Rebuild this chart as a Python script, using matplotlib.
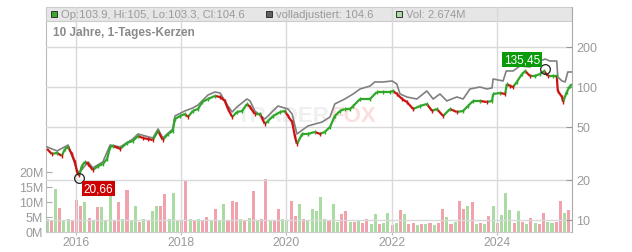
import numpy as np
import matplotlib
matplotlib.use("Agg")
import matplotlib.pyplot as plt
from matplotlib.collections import LineCollection
from matplotlib.patches import Rectangle

plt.rcParams["font.family"] = ["Liberation Sans", "DejaVu Sans"]

# daily candles, sampled (decimal year, close)
price_years = [2015.45, 2015.54, 2015.64, 2015.73, 2015.79, 2015.85, 2015.92, 2015.98, 2016.02, 2016.06,
               2016.11, 2016.17, 2016.23, 2016.32, 2016.42, 2016.51, 2016.59, 2016.65, 2016.70, 2016.84,
               2016.97, 2017.08, 2017.18, 2017.27, 2017.37, 2017.46, 2017.56, 2017.65, 2017.75, 2017.84,
               2017.88, 2017.98, 2018.07, 2018.13, 2018.22, 2018.32, 2018.40, 2018.51, 2018.64, 2018.74,
               2018.83, 2018.89, 2018.97, 2019.06, 2019.16, 2019.25, 2019.31, 2019.40, 2019.50, 2019.59,
               2019.65, 2019.75, 2019.88, 2019.97, 2020.03, 2020.11, 2020.16, 2020.20, 2020.30, 2020.41,
               2020.54, 2020.64, 2020.73, 2020.83, 2020.92, 2021.02, 2021.11, 2021.21, 2021.27, 2021.40,
               2021.59, 2021.72, 2021.84, 2021.97, 2022.03, 2022.10, 2022.20, 2022.29, 2022.41, 2022.54,
               2022.67, 2022.77, 2022.86, 2022.98, 2023.11, 2023.24, 2023.36, 2023.45, 2023.55, 2023.68,
               2023.81, 2023.91, 2023.93, 2024.06, 2024.16, 2024.19, 2024.25, 2024.31, 2024.38, 2024.48,
               2024.54, 2024.63, 2024.73, 2024.82, 2024.90, 2024.97, 2025.07, 2025.14, 2025.16, 2025.24,
               2025.26, 2025.33, 2025.39, 2025.43]
price_close = [34.2, 31.3, 31.9, 30.3, 34.2, 35.4, 31.3, 27.3, 22.9, 21.5,
               25.4, 27.3, 26.3, 23.7, 25.4, 26.3, 28.7, 35.4, 36.0, 34.2,
               37.9, 39.2, 42.8, 41.3, 40.6, 39.9, 46.7, 39.9, 44.3, 46.7,
               57.4, 60.5, 62.6, 59.5, 66.0, 68.3, 77.1, 81.2, 85.6, 84.1,
               78.5, 68.3, 59.5, 64.8, 66.0, 74.5, 70.7, 62.6, 62.6, 52.7,
               55.5, 60.5, 64.8, 66.0, 60.5, 54.5, 42.8, 37.2, 44.3, 44.3,
               45.9, 44.3, 45.9, 50.0, 60.5, 66.0, 68.3, 68.3, 71.9, 81.2,
               81.2, 91.7, 91.7, 91.7, 93.3, 88.6, 81.2, 77.1, 68.3, 71.9,
               74.5, 66.0, 68.3, 60.5, 68.3, 64.8, 66.0, 71.9, 78.5, 78.5,
               77.1, 78.5, 88.6, 90.1, 88.6, 105.3, 101.7, 100.0, 109.1, 125.3,
               132.0, 121.0, 121.0, 125.3, 132.0, 121.0, 121.0, 121.0, 93.3, 84.1,
               77.1, 91.7, 101.7, 104.6]

# volladjustiert (grey line)
adj_years = [2015.45, 2015.64, 2015.85, 2016.02, 2016.06, 2016.23, 2016.32, 2016.51, 2016.65, 2016.84,
             2017.08, 2017.18, 2017.46, 2017.56, 2017.65, 2017.84, 2017.88, 2018.07, 2018.22, 2018.32,
             2018.51, 2018.64, 2018.74, 2018.89, 2018.97, 2019.06, 2019.25, 2019.31, 2019.40, 2019.59,
             2019.65, 2019.84, 2020.03, 2020.11, 2020.20, 2020.41, 2020.68, 2020.83, 2020.92, 2021.11,
             2021.27, 2021.40, 2021.59, 2021.68, 2021.84, 2022.01, 2022.10, 2022.16, 2022.29, 2022.48,
             2022.67, 2022.79, 2022.92, 2023.05, 2023.24, 2023.36, 2023.49, 2023.68, 2023.81, 2023.91,
             2023.93, 2024.12, 2024.18, 2024.31, 2024.44, 2024.63, 2024.82, 2024.92, 2025.01, 2025.14,
             2025.16, 2025.24, 2025.30, 2025.35, 2025.43]
adj_close = [35.4, 33.0, 36.6, 23.7, 22.5, 27.3, 24.6, 27.3, 36.6, 35.4,
             40.6, 44.3, 41.3, 48.3, 41.3, 48.3, 60.5, 66.0, 69.5, 73.2,
             87.1, 91.7, 90.1, 71.9, 64.8, 70.7, 81.2, 78.5, 66.0, 57.4,
             60.5, 71.9, 68.3, 62.6, 44.3, 50.9, 54.5, 59.5, 74.5, 81.2,
             88.6, 96.6, 101.7, 109.1, 109.1, 111.0, 105.3, 88.6, 84.1, 81.2,
             93.3, 81.2, 88.6, 78.5, 84.1, 81.2, 96.6, 100.0, 96.6, 98.3,
             114.9, 111.0, 132.0, 132.0, 143.9, 141.4, 156.9, 162.4, 156.9, 156.9,
             118.9, 111.0, 109.1, 129.7, 129.7]

# volume in millions, one bar every 0.08 years from mid 2015
vol_m = [4.5, 3.8, 14.3, 8.0, 3.6, 4.2, 3.9, 10.7, 8.7, 10.0,
         4.8, 3.7, 8.3, 8.3, 4.1, 12.7, 3.6, 10.0, 4.4, 14.0,
         3.9, 8.7, 3.5, 4.2, 3.8, 7.0, 8.7, 8.7, 12.7, 4.3,
         13.0, 4.0, 3.7, 17.0, 4.5, 3.8, 4.2, 3.6, 5.0, 3.9,
         7.7, 4.0, 9.3, 3.8, 10.3, 10.0, 4.4, 3.7, 4.6, 13.7,
         3.9, 4.2, 17.7, 4.0, 3.6, 7.7, 4.3, 3.8, 10.3, 5.2,
         9.3, 4.5, 4.0, 7.7, 7.0, 11.7, 4.3, 3.6, 9.3, 3.5,
         6.0, 7.0, 3.4, 3.2, 3.6, 3.0, 4.5, 2.8, 6.0, 2.6,
         2.9, 6.3, 2.5, 3.0, 7.3, 6.0, 2.7, 3.1, 2.4, 2.8,
         2.6, 3.0, 2.5, 2.9, 7.7, 5.0, 2.7, 3.2, 10.3, 7.7,
         8.7, 10.0, 2.8, 3.1, 2.6, 5.5, 8.7, 3.0, 5.7, 13.0,
         7.3, 2.9, 7.0, 3.2, 2.7, 4.7, 3.0, 2.8, 6.3, 3.4,
         2.9, 3.3, 10.3, 6.3, 7.3]
vol_dir = ("grgrggrrrg" "rgrgggrrgr" "ggrgrggrrg" "ggrrgrgrrg" "rggrrrgrgr"
           "grrgrrggrr" "grgggggrgg" "rrgrgrrggr" "ggrgrgrrgr"
           "grgrrgrgrr" "grgrgrgrgg" "grgrgrgrrg" "grrgr")

year_ticks = [2016, 2018, 2020, 2022, 2024]
price_ticks = [10, 20, 50, 100, 200]
vol_ticks = [0, 5, 10, 15, 20]

low_val, low_year = 20.66, 2016.06
high_val, high_year = 135.45, 2024.92

grey = "#9a9a9a"
up_c, dn_c = "#2fa82a", "#cc1111"

fig = plt.figure(figsize=(6.32, 2.53), dpi=100)
ax = fig.add_axes([46 / 632, 20 / 253, 526 / 632, 225 / 253])

vol_years = 2015.45 + 0.08 * np.arange(len(vol_m))
vcol = ["#a9dba2" if c == "g" else "#f0a3ac" for c in vol_dir]
ax.bar(vol_years, vol_m, width=0.058, color=vcol, linewidth=0, zorder=1)
ax.set_xlim(2015.43, 2025.43)
ax.set_ylim(0, 75)
ax.set_yticks(vol_ticks)
ax.set_yticklabels([f"{v}M" for v in vol_ticks])
ax.set_xticks(year_ticks)
ax.set_xticklabels([str(y) for y in year_ticks])
ax.tick_params(axis="y", direction="in", length=4, color="#aaaaaa", labelcolor=grey,
               labelsize=9, pad=2)
ax.tick_params(axis="x", direction="out", length=2, color="#bbbbbb", labelcolor=grey,
               labelsize=8.7, pad=1)
for s in ["top", "right"]:
    ax.spines[s].set_visible(False)
ax.spines["left"].set_color("#bbbbbb")
ax.spines["bottom"].set_color("#cccccc")

ax2 = ax.twinx()
ax2.set_yscale("log")
ax2.set_ylim(8.1, 400)
ax2.set_xlim(2015.43, 2025.43)
ax2.set_yticks(price_ticks)
ax2.set_yticklabels([str(t) for t in price_ticks])
ax2.yaxis.set_minor_locator(matplotlib.ticker.NullLocator())
ax2.tick_params(axis="y", direction="in", length=4, color="#999999", labelcolor=grey,
                labelsize=9, pad=3)
for s in ["top", "left", "bottom"]:
    ax2.spines[s].set_visible(False)
ax2.spines["right"].set_color("#aaaaaa")

# header band
ax2.add_patch(Rectangle((0, 211 / 225), 1, 14 / 225, transform=ax2.transAxes,
                        facecolor="#e6e6e6", edgecolor="#cccccc", lw=0.8, zorder=0.5,
                        clip_on=False))
for t in price_ticks:
    ax2.axhline(t, color="#d9d9d9", lw=1, zorder=0.8)
for y in year_ticks:
    ax2.axvline(y, color="#d9d9d9", lw=1, zorder=0.8)

# watermark
ax2.text(0.54, 0.52, "TRADER", transform=ax2.transAxes, ha="right", va="center",
         fontsize=16, fontweight="bold", color="#efefef", zorder=0.6)
ax2.text(0.54, 0.52, "FOX", transform=ax2.transAxes, ha="left", va="center",
         fontsize=16, fontweight="bold", color="#fbdede", zorder=0.6)

# adjusted line
ax2.plot(adj_years, adj_close, color="#808080", lw=1.2, zorder=2)

# candles as up/down coloured segments plus short wicks
pts = np.column_stack([price_years, price_close])
segs = np.stack([pts[:-1], pts[1:]], axis=1)
cols = [up_c if b >= a else dn_c for a, b in zip(price_close[:-1], price_close[1:])]
ax2.add_collection(LineCollection(segs, colors=cols, linewidths=1.6, zorder=3))
pc = np.array(price_close)
ax2.vlines(price_years[1:], pc[1:] / 1.03, pc[1:] * 1.03, colors=cols, lw=1.0, zorder=3)

# low / high markers
ax2.plot([low_year], [low_val], "o", ms=7, mfc="none", mec="#222222", mew=0.9, zorder=4)
ax2.plot([high_year], [high_val], "o", ms=7, mfc="none", mec="#222222", mew=0.9, zorder=4)
ax2.text(low_year + 0.08, 17.2, "20,66", color="white", fontsize=8.5, va="center",
         ha="left", zorder=5, bbox=dict(boxstyle="square,pad=0.15", fc="#cc0000", ec="none"))
ax2.text(2024.14, 161, "135,45", color="white", fontsize=8.5, va="center",
         ha="left", zorder=5, bbox=dict(boxstyle="square,pad=0.15", fc="#0a9a0a", ec="none"))

# header legend
hy = 218 / 225
sq_w, sq_h = 6 / 526, 6 / 225
for x0, fc, label in [(51, "#3aaa2a", "Op:103.9, Hi:105, Lo:103.3, Cl:104.6"),
                      (266, "#606060", "volladjustiert: 104.6"),
                      (396, "#a9dba2", "Vol: 2.674M")]:
    xf = (x0 - 46) / 526
    ax2.add_patch(Rectangle((xf, hy - sq_h / 2), sq_w, sq_h, transform=ax2.transAxes,
                            facecolor=fc, edgecolor="#333333", lw=0.7, zorder=5, clip_on=False))
    ax2.text(xf + 10 / 526, hy, label, transform=ax2.transAxes, va="center", ha="left",
             fontsize=8.1, color=grey, zorder=5)

ax2.text(7 / 526, 200 / 225, "10 Jahre, 1-Tages-Kerzen", transform=ax2.transAxes,
         va="center", ha="left", fontsize=8.5, fontweight="bold", color="#8a8a8a", zorder=5)

fig.savefig("out.png", dpi=100)
